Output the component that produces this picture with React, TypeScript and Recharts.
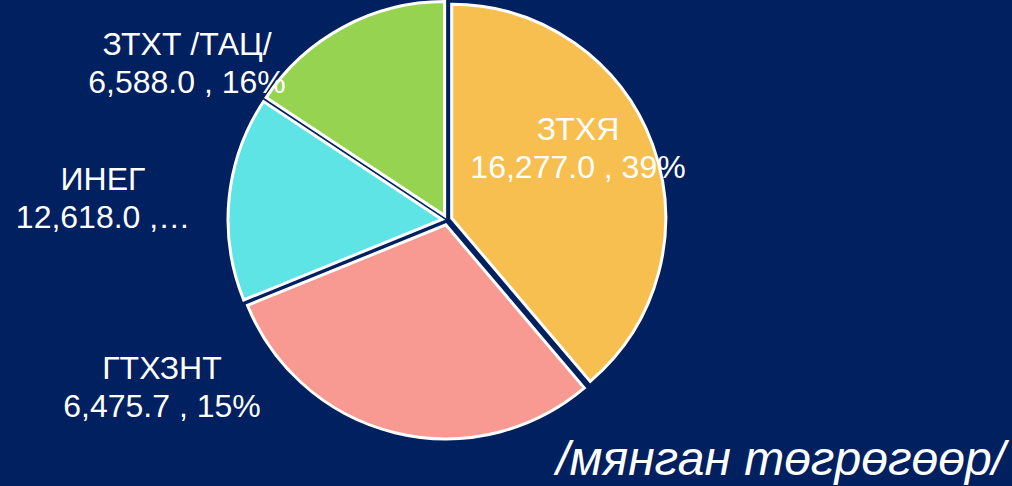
import React from 'react';
import { PieChart, Pie, Cell, Sector } from 'recharts';

const NAMES = ['ЗТХЯ', 'ИНЕГ', 'ГТХЗНТ', 'ЗТХТ /ТАЦ/'];
const VALUES = [16277.0, 12618.0, 6475.7, 6588.0];
const COLORS = ['#F7BF4F', '#F99A92', '#5EE4E4', '#96D351'];
const UNIT_NOTE = '/мянган төгрөгөөр/';

const DATA = NAMES.map((name, i) => ({ name, value: VALUES[i] }));
const TOTAL = VALUES.reduce((a, b) => a + b, 0);

const BG = '#002060';
const FONT = '"Liberation Sans", Arial, sans-serif';
const EXPLODE = 5;

// where each data label sits, relative to the pie centre (placed by hand in the original)
const LABEL_SPOTS: Record<string, { dx: number; dy: number; cut?: boolean }> = {
  'ЗТХЯ': { dx: 131, dy: -80 },
  'ИНЕГ': { dx: -344, dy: -30, cut: true },
  'ГТХЗНТ': { dx: -285, dy: 159 },
  'ЗТХТ /ТАЦ/': { dx: -260, dy: -165 },
};

const fmt = (v: number) =>
  v.toLocaleString('en-US', { minimumFractionDigits: 1, maximumFractionDigits: 1 });

const explodedSector = (props: any) => {
  const { cx, cy, midAngle } = props;
  const rad = (-midAngle * Math.PI) / 180;
  return (
    <Sector
      {...props}
      cx={cx + EXPLODE * Math.cos(rad)}
      cy={cy + EXPLODE * Math.sin(rad)}
    />
  );
};

const renderLabel = (props: any) => {
  const { cx, cy, index } = props;
  const name = NAMES[index];
  const value = VALUES[index];
  const spot = LABEL_SPOTS[name];
  const pct = Math.round((value / TOTAL) * 100);
  const second = spot.cut ? `${fmt(value)} ,…` : `${fmt(value)} , ${pct}%`;
  const x = cx + spot.dx;
  const y = cy + spot.dy;
  return (
    <text x={x} y={y} fill="#fff" fontSize={32} fontFamily={FONT} textAnchor="middle">
      <tspan x={x} y={y}>{name}</tspan>
      <tspan x={x} y={y + 38}>{second}</tspan>
    </text>
  );
};

export default function App() {
  return (
    <div style={{ position: 'absolute', left: 0, top: 0, width: 1012, height: 486, background: BG }}>
      <PieChart width={1012} height={486} margin={{ top: 0, right: 0, bottom: 0, left: 0 }}>
        <Pie
          data={DATA}
          dataKey="value"
          nameKey="name"
          cx={447}
          cy={220}
          outerRadius={214}
          startAngle={90}
          endAngle={-270}
          stroke="#fff"
          strokeWidth={3}
          shape={explodedSector}
          label={renderLabel}
          labelLine={false}
          isAnimationActive={false}
        >
          {DATA.map((d, i) => (
            <Cell key={d.name} fill={COLORS[i]} />
          ))}
        </Pie>
      </PieChart>
      <svg width={1012} height={486} style={{ position: 'absolute', left: 0, top: 0, pointerEvents: 'none' }}>
        <text x={1005} y={475} fill="#fff" fontSize={48} fontStyle="italic" fontFamily={FONT} textAnchor="end">
          {UNIT_NOTE}
        </text>
      </svg>
    </div>
  );
}
